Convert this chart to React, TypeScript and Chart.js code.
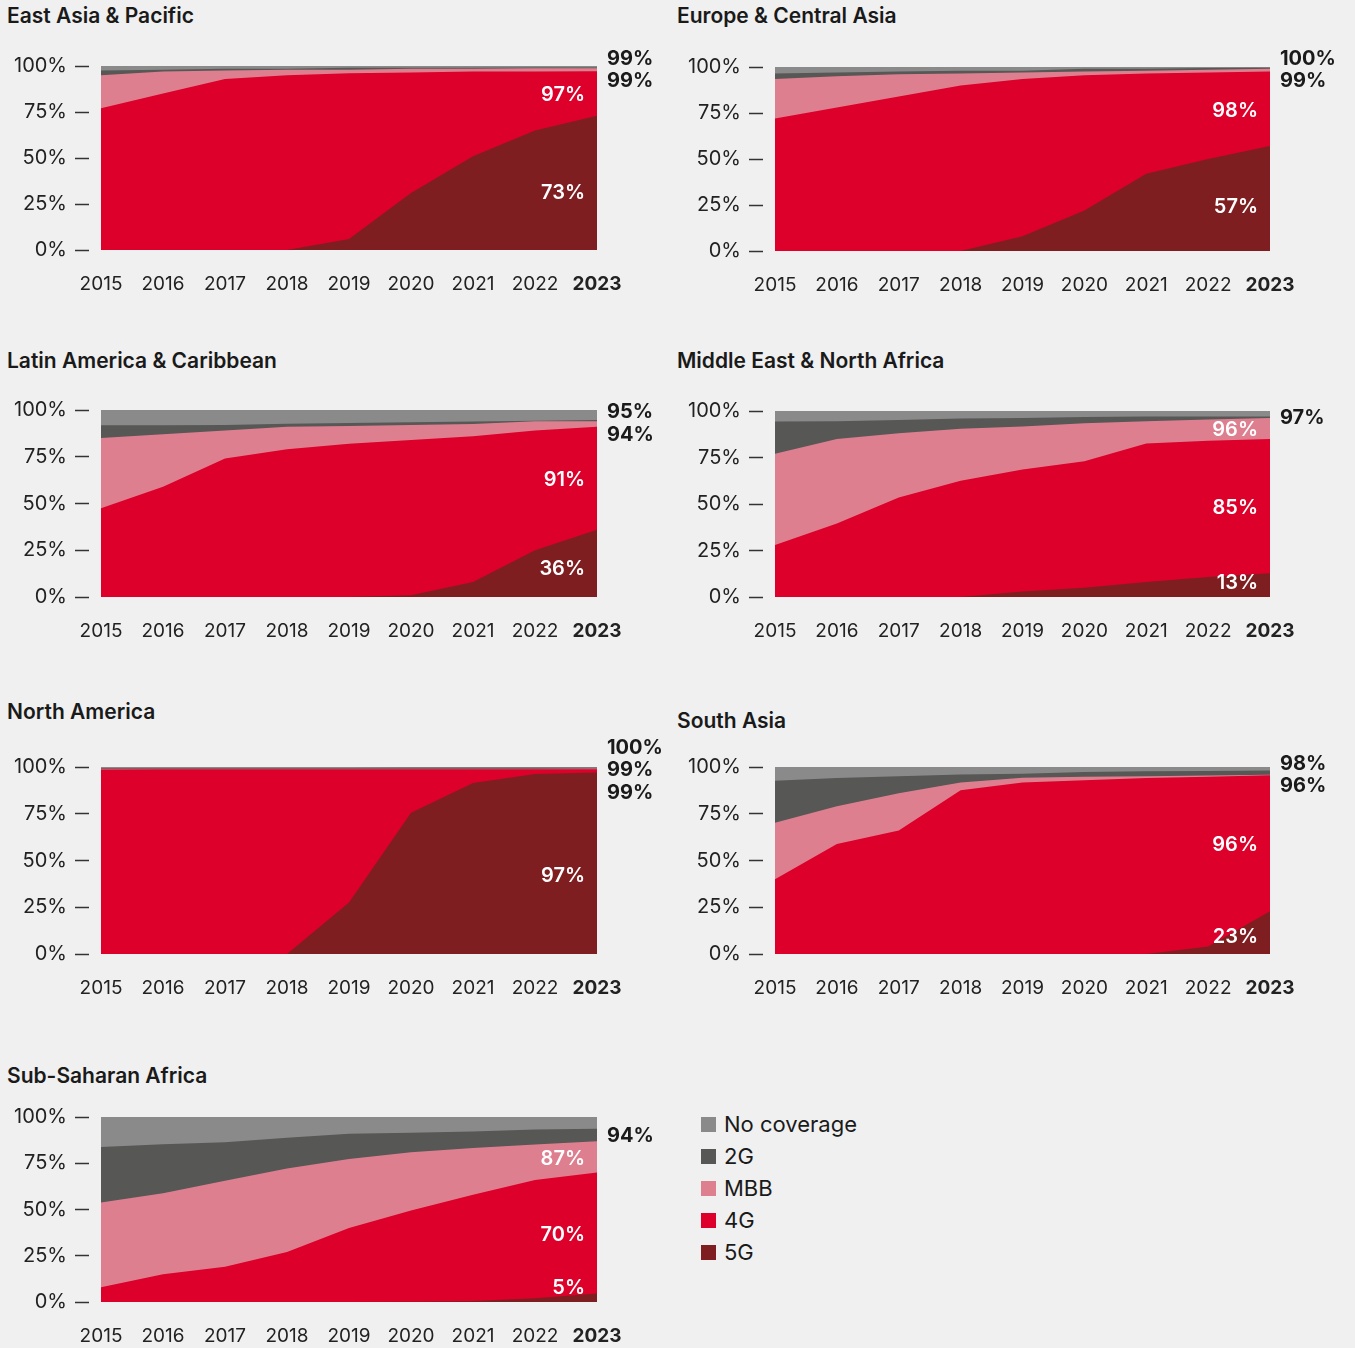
import React, { useEffect, useRef } from "react";
import { Chart, registerables } from "chart.js";

Chart.register(...registerables);

const FONT = "Inter, 'Noto Sans', sans-serif";

const YEARS = ["2015", "2016", "2017", "2018", "2019", "2020", "2021", "2022", "2023"];
const LEGEND_NAMES = ["No coverage", "2G", "MBB", "4G", "5G"];
const COLOR_NONE = "#8a8a8a";
const COLOR_2G = "#575756";
const COLOR_MBB = "#de7f90";
const COLOR_4G = "#dc002b";
const COLOR_5G = "#7e1e21";
const LEGEND_COLORS = [COLOR_NONE, COLOR_2G, COLOR_MBB, COLOR_4G, COLOR_5G];
const Y_TICKS = [0, 25, 50, 75, 100];

// Cumulative population coverage (%): each series = covered by that technology or better
const TOTAL = [100, 100, 100, 100, 100, 100, 100, 100, 100];

const EAP_5G = [0, 0, 0, 0, 6, 31, 51, 65, 73];
const EAP_4G = [77, 85, 93, 95, 96, 96.5, 97, 97, 97.2];
const EAP_MBB = [95, 97, 97.5, 98, 98, 98.5, 98.5, 98.8, 98.8];
const EAP_2G = [97.5, 98, 98.5, 98.5, 99, 99, 99, 99.2, 99.2];

const ECA_5G = [0, 0, 0, 0, 8, 22, 42, 50, 57];
const ECA_4G = [72, 78, 84, 90, 93.5, 95.5, 96.5, 97, 97.6];
const ECA_MBB = [93.5, 95, 96, 96.5, 97, 97.5, 98, 98.5, 99];
const ECA_2G = [96.5, 97, 97.5, 98, 98, 99, 99, 99.5, 99.6];

const LAC_5G = [0, 0, 0, 0, 0, 1, 8, 25, 36];
const LAC_4G = [47.5, 59, 74, 79, 82, 84, 86, 89, 91];
const LAC_MBB = [85, 87, 89, 91, 91.5, 92, 92.5, 94, 94];
const LAC_2G = [91.8, 91.8, 92, 92.7, 93, 93.4, 93.8, 94.3, 94.6];

const MENA_5G = [0, 0, 0, 0, 3, 5, 8, 10.7, 12.8];
const MENA_4G = [28, 39.5, 53.5, 62.5, 68.5, 73, 82.5, 84, 85];
const MENA_MBB = [77, 85, 88, 90.4, 91.6, 93.4, 94.5, 95.4, 96.3];
const MENA_2G = [94.3, 94.5, 95.2, 96, 96.3, 96.8, 97, 97, 97.1];

const NA_5G = [0, 0, 0, 0, 27.5, 75.5, 91.5, 96.3, 97];
const NA_4G = [98.6, 98.8, 98.8, 98.8, 98.8, 98.8, 98.8, 98.8, 98.8];
const NA_MBB = [99, 99, 99, 99, 99, 99, 99, 99.1, 99.2];
const NA_2G = [99.5, 99.5, 99.5, 99.5, 99.5, 99.6, 99.6, 99.6, 99.6];

const SA_5G = [0, 0, 0, 0, 0, 0, 0, 4, 22.8];
const SA_4G = [40, 58.8, 66, 87.6, 91.7, 92.9, 94.1, 94.8, 95.6];
const SA_MBB = [70.2, 79, 86, 91.7, 94.3, 94.8, 95.1, 95.5, 95.8];
const SA_2G = [92.7, 94.1, 95, 96, 96.4, 97.3, 97.7, 97.9, 98.1];

const SSA_5G = [0, 0, 0, 0, 0, 0.2, 0.6, 2, 4.6];
const SSA_4G = [8, 15, 19, 27, 40, 49.5, 58, 66, 70];
const SSA_MBB = [53.8, 58.8, 65.6, 72.1, 77.3, 80.9, 83.3, 85.1, 86.9];
const SSA_2G = [83.8, 85.3, 86.3, 88.8, 91, 91.5, 92.1, 93.2, 93.7];

type PanelDef = {
  title: string;
  g5: number[];
  g4: number[];
  mbb: number[];
  g2: number[];
  col: number;
  plotTop: number;
  plotBottom: number;
  titleY: number;
};

const PANELS: PanelDef[] = [
  { title: "East Asia & Pacific", g5: EAP_5G, g4: EAP_4G, mbb: EAP_MBB, g2: EAP_2G, col: 0, plotTop: 66, plotBottom: 250, titleY: 16 },
  { title: "Europe & Central Asia", g5: ECA_5G, g4: ECA_4G, mbb: ECA_MBB, g2: ECA_2G, col: 1, plotTop: 67, plotBottom: 251, titleY: 16 },
  { title: "Latin America & Caribbean", g5: LAC_5G, g4: LAC_4G, mbb: LAC_MBB, g2: LAC_2G, col: 0, plotTop: 410, plotBottom: 597, titleY: 361 },
  { title: "Middle East & North Africa", g5: MENA_5G, g4: MENA_4G, mbb: MENA_MBB, g2: MENA_2G, col: 1, plotTop: 411, plotBottom: 597, titleY: 361 },
  { title: "North America", g5: NA_5G, g4: NA_4G, mbb: NA_MBB, g2: NA_2G, col: 0, plotTop: 767, plotBottom: 954, titleY: 712 },
  { title: "South Asia", g5: SA_5G, g4: SA_4G, mbb: SA_MBB, g2: SA_2G, col: 1, plotTop: 767, plotBottom: 954, titleY: 721 },
  { title: "Sub-Saharan Africa", g5: SSA_5G, g4: SSA_4G, mbb: SSA_MBB, g2: SSA_2G, col: 0, plotTop: 1117, plotBottom: 1302, titleY: 1076 },
];

const COLS = [
  { left: 0, width: 670, plotLeft: 101, plotRight: 597 },
  { left: 670, width: 685, plotLeft: 775, plotRight: 1270 },
];

const PAD_TOP = 36;
const X_AXIS_H = 54;

function Panel({ p }: { p: PanelDef }) {
  const ref = useRef<HTMLCanvasElement>(null);
  const col = COLS[p.col];
  const plotH = p.plotBottom - p.plotTop;
  const canvasH = PAD_TOP + plotH + X_AXIS_H;

  useEffect(() => {
    const last = YEARS.length - 1;
    const endLabels = {
      id: "endLabels",
      afterDatasetsDraw(chart: any) {
        const { ctx, chartArea, scales } = chart;
        const ys = scales.y;
        const tops = [p.g2[last], p.mbb[last], p.g4[last], p.g5[last]];
        const bottoms = [p.mbb[last], p.g4[last], p.g5[last], 0];
        const outside: { text: string; y: number }[] = [];
        const inside: { text: string; y: number }[] = [];
        for (let i = 0; i < 4; i++) {
          const band = tops[i] - bottoms[i];
          const pos = i === 3 ? bottoms[i] + band * 0.44 : bottoms[i] + band / 2;
          const text = Math.round(tops[i]) + "%";
          const y = ys.getPixelForValue(pos);
          if (i === 3 || band >= 8) inside.push({ text, y });
          else outside.push({ text, y });
        }
        ctx.save();
        ctx.textBaseline = "middle";
        const gap = 22.5;
        if (outside.length > 1) {
          const span = outside[outside.length - 1].y - outside[0].y;
          if (span < gap * (outside.length - 1)) {
            const mean = outside.reduce((s, o) => s + o.y, 0) / outside.length;
            outside.forEach((o, k) => {
              o.y = mean + (k - (outside.length - 1) / 2) * gap;
            });
          }
        }
        ctx.font = `700 20px ${FONT}`;
        ctx.fillStyle = "#1a1a1a";
        ctx.textAlign = "left";
        outside.forEach((o) => ctx.fillText(o.text, chartArea.right + 10, o.y + 1));
        ctx.font = `600 20px ${FONT}`;
        ctx.fillStyle = "#ffffff";
        ctx.textAlign = "right";
        inside.forEach((o) => {
          const y = Math.max(chartArea.top + 12, Math.min(chartArea.bottom - 16, o.y));
          ctx.fillText(o.text, chartArea.right - 12, y + 2);
        });
        ctx.restore();
      },
    };

    const mk = (label: string, data: number[], color: string) => ({
      label,
      data,
      backgroundColor: color,
      borderColor: color,
      borderWidth: 0,
      pointRadius: 0,
      tension: 0,
      fill: "origin",
    });

    const chart = new Chart(ref.current!, {
      type: "line",
      data: {
        labels: YEARS,
        datasets: [
          mk("5G", p.g5, COLOR_5G),
          mk("4G", p.g4, COLOR_4G),
          mk("MBB", p.mbb, COLOR_MBB),
          mk("2G", p.g2, COLOR_2G),
          mk("No coverage", TOTAL, COLOR_NONE),
        ] as any,
      },
      options: {
        responsive: false,
        animation: false,
        events: [],
        layout: {
          padding: { top: PAD_TOP, right: col.left + col.width - col.plotRight, bottom: 0, left: 0 },
        },
        plugins: {
          legend: { display: false },
          tooltip: { enabled: false },
        },
        scales: {
          x: {
            grid: { display: false, drawTicks: false },
            border: { display: false },
            ticks: {
              autoSkip: false,
              maxRotation: 0,
              padding: 23,
              color: "#222222",
              font: (c: any) => ({ family: FONT, size: 19, weight: c.index === YEARS.length - 1 ? "bold" : "normal" }),
            },
            afterFit: (s: any) => {
              s.height = X_AXIS_H;
            },
          },
          y: {
            min: 0,
            max: 100,
            afterBuildTicks: (s: any) => {
              s.ticks = Y_TICKS.map((v) => ({ value: v }));
            },
            ticks: {
              padding: 8,
              color: "#222222",
              font: { family: FONT, size: 20 },
              callback: (v: any) => v + "%",
            },
            grid: {
              drawOnChartArea: false,
              drawTicks: true,
              tickLength: 26,
              tickBorderDash: [14, 40],
              tickColor: "#333333",
              tickWidth: 1.5,
            },
            border: { display: false },
            afterFit: (s: any) => {
              s.width = col.plotLeft - col.left;
            },
          },
        },
      } as any,
      plugins: [endLabels],
    });
    return () => chart.destroy();
  }, []);

  return (
    <>
      <div
        style={{
          position: "absolute",
          left: col.left + 7,
          top: p.titleY - 12,
          height: 24,
          lineHeight: "24px",
          fontFamily: FONT,
          fontWeight: 600,
          fontSize: 21,
          color: "#1a1a1a",
          whiteSpace: "nowrap",
        }}
      >
        {p.title}
      </div>
      <canvas
        ref={ref}
        width={col.width}
        height={canvasH}
        style={{ position: "absolute", left: col.left, top: p.plotTop - PAD_TOP, width: col.width, height: canvasH }}
      />
    </>
  );
}

function Legend() {
  return (
    <div style={{ position: "absolute", left: 701, top: 1108 }}>
      {LEGEND_NAMES.map((name, i) => (
        <div key={name} style={{ display: "flex", alignItems: "center", height: 32 }}>
          <div style={{ width: 15, height: 15, background: LEGEND_COLORS[i], marginRight: 8 }} />
          <span style={{ fontFamily: FONT, fontSize: 22, color: "#1a1a1a", lineHeight: "32px" }}>{name}</span>
        </div>
      ))}
    </div>
  );
}

export default function App() {
  return (
    <div
      style={{
        position: "absolute",
        left: 0,
        top: 0,
        width: 1355,
        height: 1348,
        background: "#f0f0f0",
        overflow: "hidden",
      }}
    >
      {PANELS.map((p) => (
        <Panel key={p.title} p={p} />
      ))}
      <Legend />
    </div>
  );
}
